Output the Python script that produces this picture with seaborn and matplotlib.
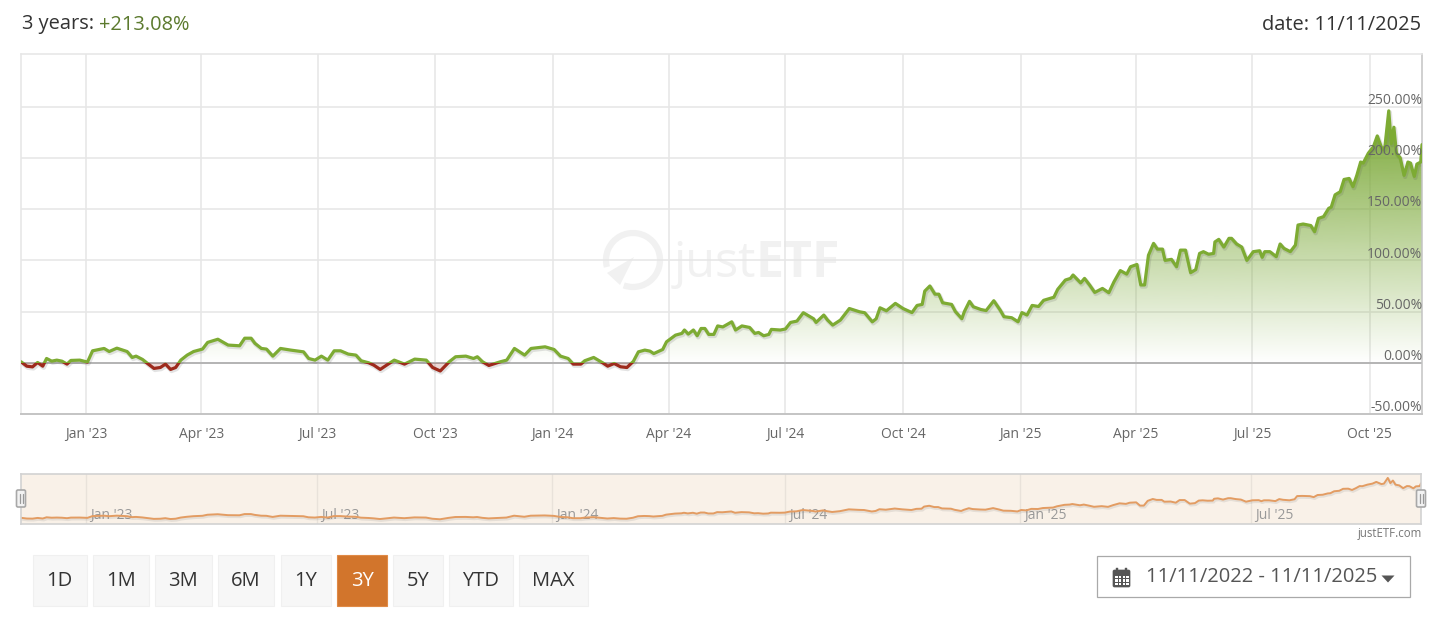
import numpy as np
import pandas as pd
import matplotlib
matplotlib.use("Agg")
import matplotlib.pyplot as plt
import matplotlib.dates as mdates
from matplotlib.patches import Rectangle, FancyBboxPatch, Polygon, Arc
from matplotlib.transforms import ScaledTranslation, blended_transform_factory
import seaborn as sns

START = "2022-11-11"
END = "2025-11-11"
days = [0,4.5,9,13,17,20,24,28,32,36,39,46,52,56,61,65,69,75,83,87,90,95,99,104,109,113,117,121,125,130,135,142,146,154,162,171,175,180,183,188,192,197,203,211,221,225,230,235,240,245,250,256,262,266,272,276,281,286,292,300,308,317,322,328,335,340,348,354,357,361,366,375,380,386,394,399,410,417,422,428,432,438,441,448,455,459,464,469,474,479,483,
        488,492,495,502,505,512,517,519,522,526,529,532,535,538,542,545,549,556,559,564,570,574,577,581,585,587,594,598,602,607,612,620,622,628,631,635,641,648,656,660,666,669,672,677,684,690,697,701,705,707,711,715,718,721,728,731,736,738,742,745,751,755,761,
        766,769,775,780,783,787,791,796,800,808,811,817,821,823,829,832,836,840,846,851,855,860,865,868,873,876,879,882,886,889,893,895,900,904,907,911,915,919,922,925,929,933,934,937,941,945,947,951,955,959,964,969,971,973,977,982,985,988,993,997,999,1003,1009,1012,1015,1019,1023,1025,1028,1032,1035,1039,1042,1045,1048,1050,1054,1058,1061,1065,1067,1070,1072,1074,1076,1079,1082,1085,1087,1090,1092,1095,1096]
perf = [1,-3.3,-4,0.3,-3.3,4.2,1.6,2.6,1.6,-1.3,2.3,2.6,0.7,11.7,13,14,11,14.3,11,5.2,6.5,3.3,-0.7,-5.5,-4.6,-1.3,-6.5,-4.6,2.6,7.5,11,13.4,19.9,23,17.3,16.6,24,24,19,14,13.4,6.5,14,12.4,10.7,4.2,2.6,6.5,2.6,11.7,11.7,8.5,7.5,2,0,-2.3,-6.5,-2.3,2.6,-1.3,3.6,2.6,-4.6,-8,1,5.9,6.5,4.2,5.9,1,-2.6,1,2.6,14,7.5,14,15.6,13,6.5,4.2,-1.3,-1.3,2,5.2,0,-3.3,-0.7,-3.9,-4.6,1.3,10.7,
        12.4,11.4,9,13,20.5,27,28.7,32,28,32,26.4,33.5,33.5,27.7,27.7,36,35,40,32,36,34.5,28.7,29.6,26.4,27.7,32.6,32,33,39.4,40.7,48.9,43,39.4,46.6,41.7,36.8,41.7,53,49.8,48.9,40,43,53.7,50.8,58,53,49,56,57,70,75,67,67,58.6,57,50,43,50,60,54.7,52,51,60.6,
        51.5,45,44,40,49,46.6,56,55,61,64,71.7,80.8,82.4,85.7,78,82.4,75.9,68.7,72.6,68.4,79,90,86.6,93.8,96,76,76,105,116.6,111,111,100,101,93.8,110,110,88,91,106.8,108.5,106,106.8,118,120.5,113,121.5,121.5,116,113,100,108.5,109.4,103,108.5,108.5,103.6,116,111.7,108.5,115,134.5,135.5,134,128,141,142.7,150.8,152,164,167,179,180,172,183,196,195,204.6,211,221.5,208,211,246,214,230,204.6,200,183,196,195,182,194,196,213]

main_tick_dates = ["2023-01-01","2023-04-01","2023-07-01","2023-10-01","2024-01-01","2024-04-01","2024-07-01","2024-10-01","2025-01-01","2025-04-01","2025-07-01","2025-10-01"]
main_tick_labels = ["Jan '23","Apr '23","Jul '23","Oct '23","Jan '24","Apr '24","Jul '24","Oct '24","Jan '25","Apr '25","Jul '25","Oct '25"]
nav_tick_dates = ["2023-01-01","2023-07-01","2024-01-01","2024-07-01","2025-01-01","2025-07-01"]
nav_tick_labels = ["Jan '23","Jul '23","Jan '24","Jul '24","Jan '25","Jul '25"]
y_ticks = [-50,0,50,100,150,200,250]
range_buttons = ["1D","1M","3M","6M","1Y","3Y","5Y","YTD","MAX"]
active_button = "3Y"
headline_left = "3 years: "
headline_return = "+213.08%"
headline_date = "date: 11/11/2025"
date_range_text = "11/11/2022 - 11/11/2025"

sns.set_theme(style="white")
plt.rcParams["font.family"] = ["Open Sans", "DejaVu Sans"]

W, H = 1440, 623
GREEN = "#7dab33"; RED = "#9e2a1c"; GRID = "#e6e6e6"; LABEL = "#666666"

df = pd.DataFrame({"date": pd.Timestamp(START) + pd.to_timedelta(days, unit="D"), "value": perf})
x0, x1 = pd.Timestamp(START), pd.Timestamp(END)
n0, n1 = mdates.date2num(x0), mdates.date2num(x1)

fig = plt.figure(figsize=(W/100, H/100), dpi=100, facecolor="white")
def box(l, t, r, b):
    return [l/W, 1-b/H, (r-l)/W, (b-t)/H]

# page overlay in pixel coordinates (beneath the chart)
ui = fig.add_axes([0,0,1,1], zorder=0)
ui.set_xlim(0, W); ui.set_ylim(H, 0); ui.axis("off")

# ---------- main chart
ax = fig.add_axes(box(21, 54, 1422, 414), zorder=2)
ax.patch.set_alpha(0)
ymin, ymax = -50, 301.5
ax.grid(True, color=GRID, lw=1.1); ax.set_axisbelow(True)
for s in ax.spines.values():
    s.set_color(GRID); s.set_linewidth(1.1)
ax.spines["bottom"].set_color("#c4c4c4"); ax.spines["bottom"].set_linewidth(1.4)
ax.spines["right"].set_color("#c4c4c4"); ax.spines["right"].set_linewidth(1.1)
ax.axhline(0, color="#b4b4b4", lw=1.4, zorder=1.5)

# gradient area
poly = ax.fill_between(df["date"], df["value"], 0, color="none", lw=0)
grad_levels = np.linspace(0, 250, 256)
rgba = np.zeros((256, 1, 4))
rgba[..., 0] = 0x7a/255; rgba[..., 1] = 0xa8/255; rgba[..., 2] = 0x36/255
rgba[..., 3] = np.clip(grad_levels/245, 0, 0.93)[:, None]
im = ax.imshow(rgba, origin="lower", aspect="auto", extent=[n0, n1, 0, 250], zorder=1.6)
im.set_clip_path(poly.get_paths()[0], ax.transData)
ax.fill_between(df["date"], df["value"], 0, where=df["value"] < 0, interpolate=True, color=RED, alpha=0.18, lw=0, zorder=1.6)

# threshold-coloured line with soft shadow
shadow = ScaledTranslation(1/100, -1.5/100, fig.dpi_scale_trans)
sns.lineplot(data=df, x="date", y="value", estimator=None, sort=False, ax=ax, color="#555555", lw=3.2, alpha=0.16, zorder=2)
ax.lines[-1].set_transform(ax.transData + shadow)
sns.lineplot(data=df, x="date", y="value", estimator=None, sort=False, ax=ax, color=GREEN, lw=2.3, zorder=3)
ax.lines[-1].set_clip_path(Rectangle((n0, 0), n1-n0, 400, transform=ax.transData))
sns.lineplot(data=df, x="date", y="value", estimator=None, sort=False, ax=ax, color=RED, lw=2.3, zorder=3)
ax.lines[-1].set_clip_path(Rectangle((n0, -60), n1-n0, 60, transform=ax.transData))

ax.set_xlim(x0, x1); ax.set_ylim(ymin, ymax)
ax.set_xticks(pd.to_datetime(main_tick_dates)); ax.set_xticklabels(main_tick_labels)
ax.set_yticks(y_ticks); ax.set_yticklabels([])
ax.set_xlabel(""); ax.set_ylabel("")
ax.tick_params(axis="x", length=0, pad=9.5, labelsize=10, labelcolor=LABEL)
ax.tick_params(axis="y", length=0)

# y labels sit inside the plot, over the series
axr = ax.twinx()
axr.set_zorder(3); axr.patch.set_alpha(0)
axr.set_ylim(ymin, ymax); axr.set_yticks(y_ticks)
axr.set_yticklabels([f"{v:.2f}%" for v in y_ticks])
axr.tick_params(axis="y", length=0, pad=0, labelsize=10, labelcolor=LABEL)
down = ScaledTranslation(0, -1.2/100, fig.dpi_scale_trans)
for lab in axr.get_yticklabels():
    lab.set_ha("right"); lab.set_va("bottom")
    lab.set_transform(lab.get_transform() + down)
for s in axr.spines.values():
    s.set_visible(False)
axr.grid(False)

# watermark
WM = "#f1f1f1"
ui.add_patch(Arc((633, 260), 54, 54, angle=0, theta1=165, theta2=110, color=WM, lw=4.5, zorder=1))
ui.add_patch(Polygon([[634, 257], [607, 273], [620, 285]], closed=True, color=WM, lw=0, zorder=1))
ui.text(674, 277, "just", fontsize=35, color=WM, va="baseline", ha="left", fontweight="normal")
ui.text(756, 277, "ETF", fontsize=36, color=WM, va="baseline", ha="left", fontweight="bold")

# ---------- navigator
nav = fig.add_axes(box(21, 474, 1421, 524), zorder=2, facecolor="#f9f1e8")
sns.lineplot(data=df, x="date", y="value", estimator=None, sort=False, ax=nav, color="#555555", lw=2.0, alpha=0.12)
nav.lines[-1].set_transform(nav.transData + shadow)
sns.lineplot(data=df, x="date", y="value", estimator=None, sort=False, ax=nav, color="#e39c62", lw=1.4)
nav.set_xlim(x0, x1); nav.set_ylim(-37, 270)
nav.set_xticks(pd.to_datetime(nav_tick_dates)); nav.set_xticklabels([])
nav.set_yticks([]); nav.set_xlabel(""); nav.set_ylabel("")
nav.tick_params(axis="x", length=0)
nav.grid(True, axis="x", color="#e9e2da", lw=1.0); nav.set_axisbelow(True)
for s in nav.spines.values():
    s.set_color("#d2d2d2"); s.set_linewidth(1.2)
nav_tf = blended_transform_factory(nav.transData, nav.transAxes)
for d, t in zip(nav_tick_dates, nav_tick_labels):
    nav.annotate(t, (mdates.date2num(pd.Timestamp(d)), 0.17), xycoords=nav_tf, xytext=(4, 0), textcoords="offset pixels",
                 fontsize=10, color="#999999", ha="left", va="center", zorder=1)

# navigator handles (above everything)
top = fig.add_axes([0,0,1,1], zorder=5)
top.set_xlim(0, W); top.set_ylim(H, 0); top.axis("off")
for cx in (21, 1421):
    top.add_patch(FancyBboxPatch((cx-4.5, 490), 9, 17, boxstyle="round,pad=0,rounding_size=1.5", fc="#f2f2f2", ec="#a8a8a8", lw=1.2))
    top.plot([cx-1.5, cx-1.5], [494, 503], color="#999999", lw=0.9)
    top.plot([cx+1.5, cx+1.5], [494, 503], color="#999999", lw=0.9)

# ---------- header
ui.text(22, 24.5, headline_left, fontsize=14.4, color="#333333", va="center", ha="left")
ui.text(99.5, 24.5, headline_return, fontsize=14.4, color="#5c7a2e", va="center", ha="left")
ui.text(1421, 24.5, headline_date, fontsize=14.4, color="#333333", va="center", ha="right")
ui.text(1422, 533, "justETF.com", fontsize=8.3, color="#777777", va="center", ha="right")

# ---------- range buttons
lefts = [33, 93, 155, 218, 281, 337, 393, 449, 519]
rights = [86.5, 149, 211.5, 274, 331, 387, 443, 513, 588]
for lab, l, r in zip(range_buttons, lefts, rights):
    on = lab == active_button
    ui.add_patch(Rectangle((l, 555), r-l, 51, fc="#d2752c" if on else "#f7f7f7", ec="#e08a46" if on else "#f0f0f0", lw=0.8))
    ui.text((l+r)/2, 580.5, lab, fontsize=14.5, color="white" if on else "#333333", ha="center", va="center")

# ---------- date picker
ui.add_patch(Rectangle((1097, 556), 313, 41, fc="white", ec="#a9a9a9", lw=0.9))
ICON = "#555555"
ui.add_patch(FancyBboxPatch((1113, 570), 17, 17, boxstyle="round,pad=0,rounding_size=1.5", fc=ICON, ec=ICON, lw=0.5))
for tx in (1117, 1126):
    ui.add_patch(Rectangle((tx-1, 567.5), 2, 4, fc=ICON, ec=ICON, lw=0.3))
for i in range(4):
    for j in range(3):
        ui.add_patch(Rectangle((1115+i*3.8, 575.5+j*3.7), 2.6, 2.5, fc="white", ec="none"))
ui.text(1146, 577.5, date_range_text, fontsize=14.5, color="#555555", ha="left", va="center")
ui.add_patch(Polygon([[1381.5, 575.5], [1394.5, 575.5], [1388, 582.5]], closed=True, fc=ICON, ec="none"))

fig.savefig("out.png", dpi=100, facecolor="white")
